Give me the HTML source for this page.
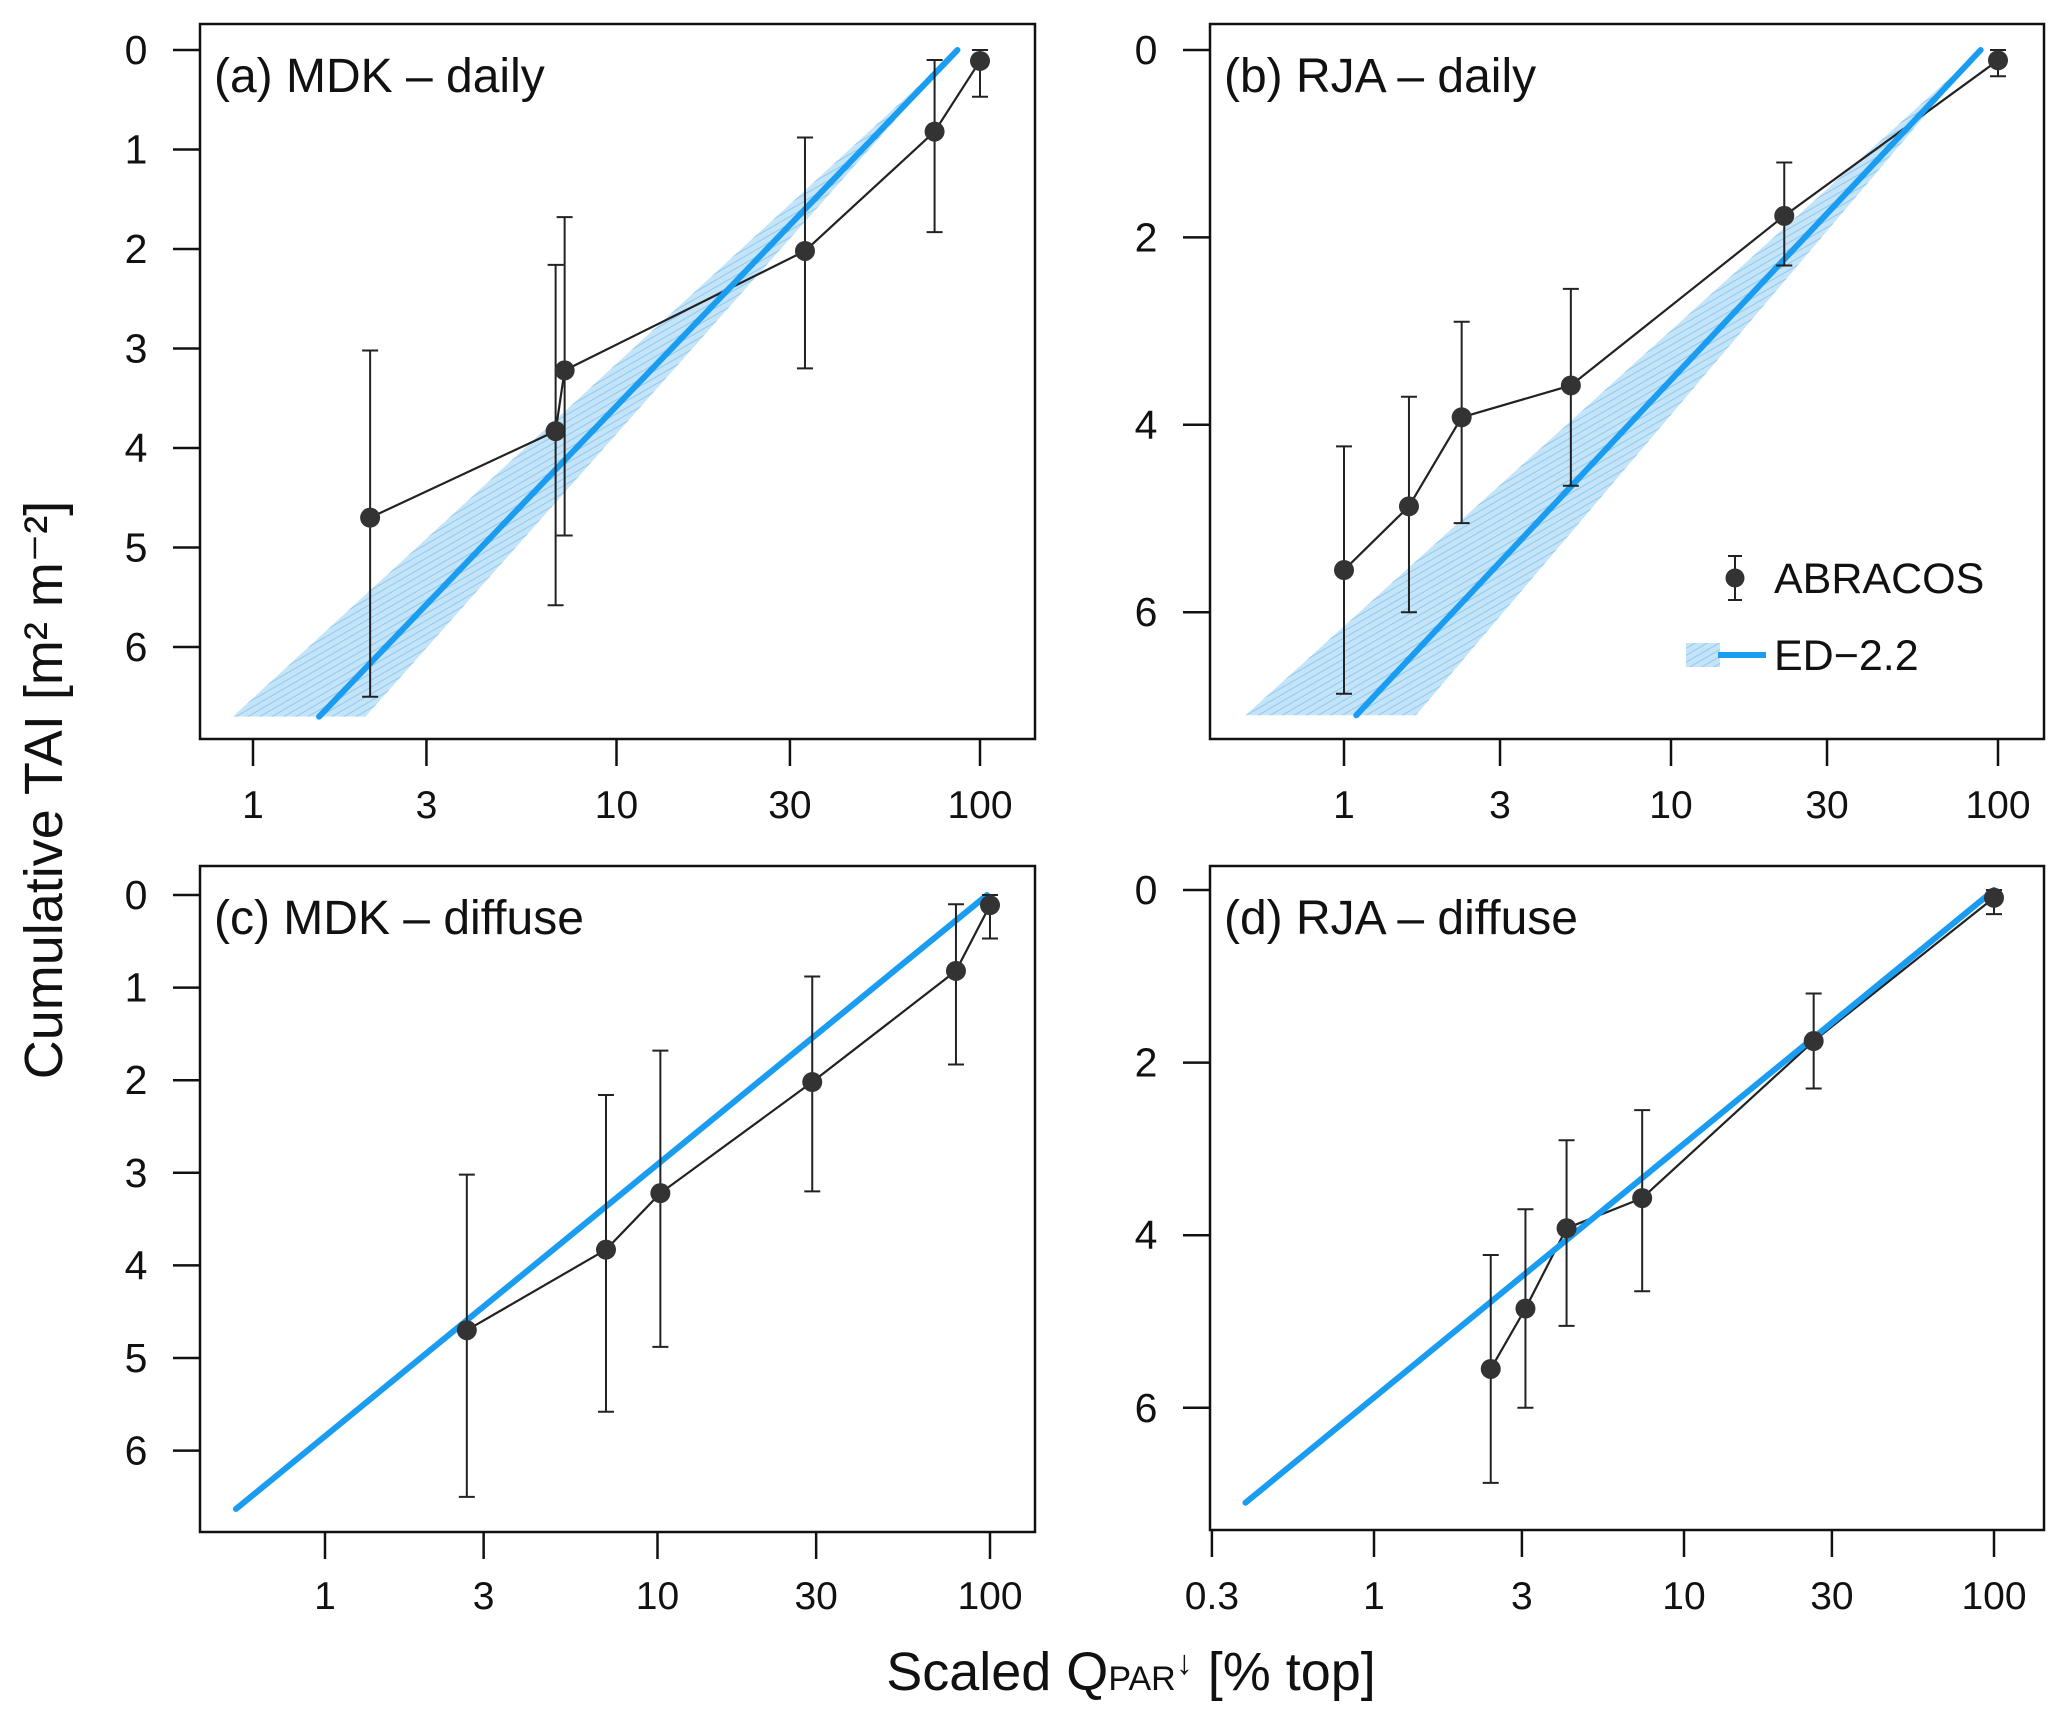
<!DOCTYPE html>
<html><head><meta charset="utf-8">
<style>
html,body{margin:0;padding:0;background:#fff;}
svg{display:block;font-family:"Liberation Sans",Arial,sans-serif;}
</style></head>
<body>
<svg id="chart" width="2068" height="1716" viewBox="0 0 2068 1716" xmlns="http://www.w3.org/2000/svg">
<defs>
<pattern id="hatch" patternUnits="userSpaceOnUse" width="6" height="6" patternTransform="rotate(60)">
<rect width="6" height="6" fill="#c6e4f8"/>
<line x1="0" y1="0" x2="0" y2="6" stroke="#8ccbf2" stroke-width="2"/>
</pattern>
</defs>
<text x="0" y="0" transform="translate(62,790) rotate(-90)" text-anchor="middle" font-size="54" fill="#111">Cumulative TAI [m² m⁻²]</text>
<text x="1131" y="1690" text-anchor="middle" font-size="54" fill="#111">Scaled Q<tspan font-size="34">PAR</tspan><tspan font-size="34" dy="-16">↓</tspan><tspan dy="16"> [% top]</tspan></text>
<g>
<line x1="1735" y1="556" x2="1735" y2="600" stroke="#222" stroke-width="2"/>
<line x1="1728" y1="556" x2="1742" y2="556" stroke="#222" stroke-width="2"/>
<line x1="1728" y1="600" x2="1742" y2="600" stroke="#222" stroke-width="2"/>
<circle cx="1735" cy="578" r="9.5" fill="#333"/>
<text x="1774" y="593" font-size="43" fill="#111">ABRACOS</text>
<rect x="1686" y="643" width="34" height="24" fill="url(#hatch)"/>
<line x1="1718" y1="655" x2="1766" y2="655" stroke="#1a9cf0" stroke-width="6"/>
<text x="1774" y="670" font-size="43" fill="#111">ED−2.2</text>
</g>
</svg>
<script>
// Panel (a) MDK daily
const aX = [2.1, 6.8, 7.2, 33, 75, 100];
const aY = [4.7, 3.83, 3.22, 2.02, 0.82, 0.11];
const aLo = [3.02, 2.16, 1.68, 0.88, 0.1, 0.0];
const aHi = [6.5, 5.58, 4.88, 3.2, 1.83, 0.47];
const aLineX = [1.52, 86.7];
const aLineY = [6.7, 0];
const aBandX = [0.88, 2.04, 86.7];
const aBandY = [6.7, 6.7, 0];
// Panel (b) RJA daily
const bX = [1.0, 1.58, 2.29, 4.94, 22.2, 100];
const bY = [5.55, 4.87, 3.92, 3.58, 1.77, 0.11];
const bLo = [4.23, 3.7, 2.9, 2.55, 1.2, 0.0];
const bHi = [6.87, 6.0, 5.05, 4.65, 2.3, 0.28];
const bLineX = [1.09, 88.5];
const bLineY = [7.1, 0];
const bBandX = [0.5, 1.66, 88.5];
const bBandY = [7.1, 7.1, 0];
// Panel (c) MDK diffuse
const cX = [2.67, 7.0, 10.2, 29.2, 79, 100];
const cY = [4.7, 3.83, 3.22, 2.02, 0.82, 0.11];
const cLo = [3.02, 2.16, 1.68, 0.88, 0.1, 0.0];
const cHi = [6.5, 5.58, 4.88, 3.2, 1.83, 0.47];
const cLineX = [0.54, 98];
const cLineY = [6.63, 0];
// Panel (d) RJA diffuse
const dX = [2.38, 3.08, 4.18, 7.33, 26.2, 100];
const dY = [5.55, 4.85, 3.92, 3.57, 1.75, 0.09];
const dLo = [4.23, 3.7, 2.9, 2.55, 1.2, 0.0];
const dHi = [6.87, 6.0, 5.05, 4.65, 2.3, 0.28];
const dLineX = [0.385, 100];
const dLineY = [7.1, 0];
// Tick labels
const xTicksA = [1, 3, 10, 30, 100];
const xTicksB = [1, 3, 10, 30, 100];
const xTicksC = [1, 3, 10, 30, 100];
const xTicksD = [0.3, 1, 3, 10, 30, 100];
const yTicksA = [0, 1, 2, 3, 4, 5, 6];
const yTicksB = [0, 2, 4, 6];
const yTicksC = [0, 1, 2, 3, 4, 5, 6];
const yTicksD = [0, 2, 4, 6];

const NS = 'http://www.w3.org/2000/svg';
const svg = document.getElementById('chart');
function mk(tag, attrs, parent) {
  const e = document.createElementNS(NS, tag);
  for (const k in attrs) e.setAttribute(k, attrs[k]);
  (parent || svg).appendChild(e);
  return e;
}

const panels = [
  {id:'a', title:'(a) MDK – daily', box:[200,24,1035,739], x1:253, dec:363.5, y0:50, yu:99.5, xl:818,
   X:aX, Y:aY, Lo:aLo, Hi:aHi, LX:aLineX, LY:aLineY, BX:aBandX, BY:aBandY, xt:xTicksA, yt:yTicksA},
  {id:'b', title:'(b) RJA – daily', box:[1210,24,2044,739], x1:1344, dec:327, y0:50, yu:93.7, xl:818,
   X:bX, Y:bY, Lo:bLo, Hi:bHi, LX:bLineX, LY:bLineY, BX:bBandX, BY:bBandY, xt:xTicksB, yt:yTicksB},
  {id:'c', title:'(c) MDK – diffuse', box:[200,866,1035,1532], x1:325, dec:332.5, y0:895, yu:92.6, xl:1609,
   X:cX, Y:cY, Lo:cLo, Hi:cHi, LX:cLineX, LY:cLineY, BX:null, BY:null, xt:xTicksC, yt:yTicksC},
  {id:'d', title:'(d) RJA – diffuse', box:[1210,866,2044,1530], x1:1374, dec:310, y0:890, yu:86.3, xl:1609,
   X:dX, Y:dY, Lo:dLo, Hi:dHi, LX:dLineX, LY:dLineY, BX:null, BY:null, xt:xTicksD, yt:yTicksD}
];

panels.forEach(p => {
  const g = mk('g', {});
  
  
  const sx = v => p.x1 + Math.log10(v) * p.dec;
  const sy = v => p.y0 + v * p.yu;
  const [L, T, R, B] = p.box;

  if (p.BX) {
    const pts = p.BX.map((v, i) => sx(v) + ',' + sy(p.BY[i])).join(' ');
    const band = mk('polygon', {points: pts, fill: 'url(#hatch)'}, g);
    
    
  }
  const obs = mk('polyline', {points: p.X.map((v, i) => sx(v) + ',' + sy(p.Y[i])).join(' '), fill: 'none', stroke: '#222', 'stroke-width': 2.2}, g);
  
  
  const ed = mk('line', {x1: sx(p.LX[0]), y1: sy(p.LY[0]), x2: sx(p.LX[1]), y2: sy(p.LY[1]), stroke: '#1a9cf0', 'stroke-width': 6, 'stroke-linecap': 'round'}, g);
  
  
  p.X.forEach((v, i) => {
    const x = sx(v);
    const eb = mk('path', {d: `M${x},${sy(p.Lo[i])}V${sy(p.Hi[i])}M${x-8},${sy(p.Lo[i])}H${x+8}M${x-8},${sy(p.Hi[i])}H${x+8}`, stroke: '#222', 'stroke-width': 2, fill: 'none'}, g);
    
    
    const c = mk('circle', {cx: x, cy: sy(p.Y[i]), r: 10, fill: '#333'}, g);
    
    
  });
  const bx = mk('rect', {x: L, y: T, width: R - L, height: B - T, fill: 'none', stroke: '#111', 'stroke-width': 2.5}, g);
  
  
  p.xt.forEach(t => {
    const x = sx(t);
    const tk = mk('line', {x1: x, y1: B, x2: x, y2: B + 27, stroke: '#111', 'stroke-width': 2.5}, g);
    
    
    const tl = mk('text', {x: x, y: p.xl, 'text-anchor': 'middle', 'font-size': 39, fill: '#111'}, g);
    
    
    tl.textContent = String(t);
  });
  p.yt.forEach(t => {
    const y = sy(t);
    const tk = mk('line', {x1: L, y1: y, x2: L - 27, y2: y, stroke: '#111', 'stroke-width': 2.5}, g);
    
    
    const tl = mk('text', {x: L - 64, y: y + 14, 'text-anchor': 'middle', 'font-size': 41, fill: '#111'}, g);
    
    
    tl.textContent = String(t);
  });
  const tt = mk('text', {x: L + 14, y: T + 68, 'font-size': 48, fill: '#111'}, g);
  
  
  tt.textContent = p.title;
});
</script>
</body></html>
